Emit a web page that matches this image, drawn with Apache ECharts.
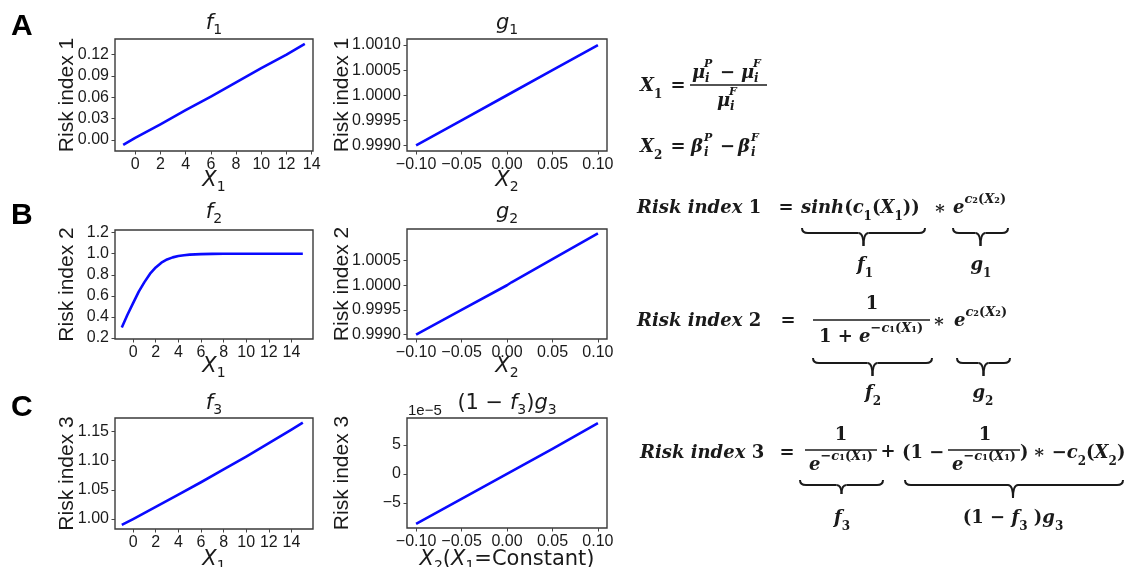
<!DOCTYPE html>
<html><head><meta charset="utf-8">
<script src="https://cdn.jsdelivr.net/npm/echarts@6/dist/echarts.min.js"></script>
<style>html,body{margin:0;padding:0;background:#fff}#c{width:1135px;height:567px}</style>
</head><body><div id="c"></div>
<script>
// ---------- data ----------
const f1X = [-0.95, 0, 2, 4, 6, 8, 10, 12, 13.45];
const f1Y = [-0.007, 0.003, 0.022, 0.042, 0.061, 0.081, 0.101, 0.120, 0.135];
const g1X = [-0.1, -0.05, 0, 0.05, 0.1];
const g1Y = [0.9990, 0.9995, 1.0000, 1.0005, 1.0010];
const f2X = [-1, -0.5, 0, 0.5, 1, 1.5, 2, 2.5, 3, 3.5, 4, 4.5, 5, 6, 7, 8, 10, 12, 15];
const f2Y = [0.30, 0.42, 0.53, 0.64, 0.73, 0.81, 0.87, 0.915, 0.945, 0.965, 0.978, 0.986, 0.991, 0.996, 0.998, 0.999, 1.0, 1.0, 1.0];
const g2X = [-0.1, -0.05, 0, 0.005, 0.05, 0.1];
const g2Y = [0.9990, 0.9995, 1.0000, 1.00006, 1.00053, 1.00105];
const f3X = [-1, 0, 2, 4, 6, 8, 10, 12, 14, 15];
const f3Y = [0.990, 1.000, 1.021, 1.042, 1.063, 1.085, 1.107, 1.130, 1.153, 1.165];
const g3X = [-0.1, -0.05, 0, 0.05, 0.1];
const g3Y = [-8.6e-5, -4.3e-5, 0, 4.3e-5, 8.7e-5];

// tick labels
const xTicksF = [0, 2, 4, 6, 8, 10, 12, 14];
const xTicksG = [-0.10, -0.05, 0.00, 0.05, 0.10];
const f1YTicks = [0.00, 0.03, 0.06, 0.09, 0.12];
const g1YTicks = [0.9990, 0.9995, 1.0000, 1.0005, 1.0010];
const f2YTicks = [0.2, 0.4, 0.6, 0.8, 1.0, 1.2];
const g2YTicks = [0.9990, 0.9995, 1.0000, 1.0005];
const f3YTicks = [1.00, 1.05, 1.10, 1.15];
const g3YTicks = [-5e-5, 0, 5e-5];

// titles / axis names (rich-text markup: i = italic, n = upright, b = subscript)
const titles = ['{i|f}{b|1}', '{i|g}{b|1}', '{i|f}{b|2}', '{i|g}{b|2}', '{i|f}{b|3}', '{n|(1 − }{i|f}{b|3}{n|)}{i|g}{b|3}'];
const xNames = ['{i|X}{b|1}', '{i|X}{b|2}', '{i|X}{b|1}', '{i|X}{b|2}', '{i|X}{b|1}', '{i|X}{b|2}{n|(}{i|X}{b|1}{n|=Constant)}'];
const yNames = ['Risk index 1', 'Risk index 1', 'Risk index 2', 'Risk index 2', 'Risk index 3', 'Risk index 3'];

// ---------- build ----------
const zip = (a, b) => a.map((v, i) => [v, b[i]]);
const minus = s => s.replace('-', '\u2212');
const fmt = d => v => minus(Number(v).toFixed(d));
const SANS = 'Liberation Sans, Arial, sans-serif';
const MATH = 'DejaVu Sans, sans-serif';
const INK = '#1a1a1a';

const G = [
  {left: 115, top: 39, width: 198, height: 112},
  {left: 407, top: 39, width: 200, height: 112},
  {left: 115, top: 230, width: 198, height: 109},
  {left: 407, top: 229, width: 200, height: 110},
  {left: 115, top: 418, width: 198, height: 111},
  {left: 407, top: 418, width: 200, height: 110}
];
const grids = G.map(g => Object.assign({show: true, borderColor: '#3a3a3a', borderWidth: 1.4, backgroundColor: 'transparent'}, g));

const xSpec = [
  {min: -1.6, max: 14.1, t: xTicksF, d: 0},
  {min: -0.11, max: 0.11, t: xTicksG, d: 2},
  {min: -1.6, max: 15.9, t: xTicksF, d: 0},
  {min: -0.11, max: 0.11, t: xTicksG, d: 2},
  {min: -1.6, max: 15.9, t: xTicksF, d: 0},
  {min: -0.11, max: 0.11, t: xTicksG, d: 2}
];
const ySpec = [
  {min: -0.0155, max: 0.142, t: f1YTicks, f: fmt(2)},
  {min: 0.99889, max: 1.00112, t: g1YTicks, f: fmt(4)},
  {min: 0.19, max: 1.225, t: f2YTicks, f: fmt(1)},
  {min: 0.99891, max: 1.00114, t: g2YTicks, f: fmt(4)},
  {min: 0.983, max: 1.173, t: f3YTicks, f: fmt(2)},
  {min: -9.3e-5, max: 9.6e-5, t: g3YTicks, f: v => minus(String(Math.round(v / 1e-5)))}
];

const tick = {show: true, inside: false, length: 3.5, lineStyle: {color: '#444', width: 1}};
const lab = {fontFamily: SANS, fontSize: 16, color: INK};

const xAxis = xSpec.map((s, i) => ({
  type: 'value', gridIndex: i, min: s.min, max: s.max,
  axisLine: {show: false, onZero: false}, splitLine: {show: false},
  axisTick: Object.assign({customValues: s.t}, tick),
  axisLabel: Object.assign({customValues: s.t, formatter: fmt(s.d), margin: 6}, lab)
}));
const yAxis = ySpec.map((s, i) => ({
  type: 'value', gridIndex: i, min: s.min, max: s.max,
  axisLine: {show: false, onZero: false}, splitLine: {show: false},
  axisTick: Object.assign({customValues: s.t}, tick),
  axisLabel: Object.assign({customValues: s.t, formatter: s.f, margin: 6}, lab)
}));

const seriesData = [zip(f1X, f1Y), zip(g1X, g1Y), zip(f2X, f2Y), zip(g2X, g2Y), zip(f3X, f3Y), zip(g3X, g3Y)];
const series = seriesData.map((d, i) => ({
  type: 'line', xAxisIndex: i, yAxisIndex: i, data: d, showSymbol: false, smooth: false,
  lineStyle: {color: '#0a0aff', width: 2.6, join: 'round'}, z: 3
}));

// ---------- graphic text helpers ----------
const SERIF = 'DejaVu Serif, serif';
const FR = {
  I: {fontFamily: SERIF, fontWeight: 'bold', fontStyle: 'italic', fontSize: 18, lineHeight: 30, fill: INK},
  N: {fontFamily: SERIF, fontWeight: 'bold', fontSize: 18, lineHeight: 30, fill: INK},
  s: {fontFamily: SERIF, fontWeight: 'bold', fontSize: 12, lineHeight: 18, verticalAlign: 'bottom', fill: INK},
  p: {fontFamily: SERIF, fontWeight: 'bold', fontStyle: 'italic', fontSize: 13, lineHeight: 12, verticalAlign: 'top', fill: INK},
  pn: {fontFamily: SERIF, fontWeight: 'bold', fontSize: 13, lineHeight: 12, verticalAlign: 'top', fill: INK}
};
const T = (x, y, text, align) => ({
  type: 'text', x: x, y: y, z: 10,
  style: {text: text, rich: FR, align: align || 'left', verticalAlign: 'middle', fill: INK,
          fontFamily: SERIF, fontWeight: 'bold', fontSize: 18}
});
const S = (x, y, text, size, extra) => ({
  type: 'text', x: x, y: y, z: 10,
  style: Object.assign({text: text, align: 'left', verticalAlign: 'middle', fill: INK,
          fontFamily: SERIF, fontWeight: 'bold', fontStyle: 'italic', fontSize: size}, extra || {})
});
const bar = (x1, x2, y) => ({type: 'line', z: 10, shape: {x1: x1, y1: y, x2: x2, y2: y}, style: {stroke: INK, lineWidth: 1.6}});
const BS = {stroke: INK, lineWidth: 2, fill: null};
const brace = (x1, x2, y0, tip, xm) => {
  xm = xm === undefined ? (x1 + x2) / 2 : xm;
  const y1 = y0 + 5;
  return [
    {type: 'bezierCurve', z: 10, shape: {x1: x1, y1: y0, x2: x1 + 6, y2: y1, cpx1: x1, cpy1: y1}, style: BS},
    {type: 'line', z: 10, shape: {x1: x1 + 6, y1: y1, x2: xm - 5, y2: y1}, style: BS},
    {type: 'bezierCurve', z: 10, shape: {x1: xm - 5, y1: y1, x2: xm, y2: tip, cpx1: xm, cpy1: y1}, style: BS},
    {type: 'bezierCurve', z: 10, shape: {x1: x2, y1: y0, x2: x2 - 6, y2: y1, cpx1: x2, cpy1: y1}, style: BS},
    {type: 'line', z: 10, shape: {x1: x2 - 6, y1: y1, x2: xm + 5, y2: y1}, style: BS},
    {type: 'bezierCurve', z: 10, shape: {x1: xm + 5, y1: y1, x2: xm, y2: tip, cpx1: xm, cpy1: y1}, style: BS}
  ];
};
const E_C2 = '{I|e}{p|c}{pn|₂(}{p|X}{pn|₂)}';
const E_MC1 = '{I|e}{p|−c}{pn|₁(}{p|X}{pn|₁)}';

// sans math labels (titles, axis names)
const MR = {
  i: {fontFamily: MATH, fontStyle: 'italic', fontSize: 21, lineHeight: 26, fill: INK},
  n: {fontFamily: MATH, fontSize: 21, lineHeight: 26, fill: INK},
  b: {fontFamily: MATH, fontSize: 14, lineHeight: 17, verticalAlign: 'bottom', fill: INK}
};
const M = (cx, cy, rich, rot) => ({
  type: 'text', x: cx, y: cy, z: 10, rotation: rot || 0,
  style: {text: rich, rich: MR, align: 'center', verticalAlign: 'middle', fill: INK}
});
const Y = (cx, cy, text) => ({
  type: 'text', x: cx, y: cy, z: 10, rotation: Math.PI / 2,
  style: {text: text, fontFamily: SANS, fontSize: 21, align: 'center', verticalAlign: 'middle', fill: INK}
});

const titleY = [24, 24, 213, 213, 404, 404];
const xNameY = [181, 181, 367, 367, 560, 560];
const yNameX = [67, 342, 67, 342, 67, 342];
const axisText = [];
G.forEach((g, i) => {
  const cx = g.left + g.width / 2, cy = g.top + g.height / 2;
  axisText.push(M(cx, titleY[i], titles[i]));
  axisText.push(M(cx, xNameY[i], xNames[i]));
  axisText.push(Y(yNameX[i], cy, yNames[i]));
});

const graphic = [
  // panel letters
  {type: 'text', x: 11, y: 27, style: {text: 'A', fontFamily: SANS, fontWeight: 'bold', fontSize: 30, fill: '#000', verticalAlign: 'middle'}},
  {type: 'text', x: 11, y: 216, style: {text: 'B', fontFamily: SANS, fontWeight: 'bold', fontSize: 30, fill: '#000', verticalAlign: 'middle'}},
  {type: 'text', x: 11, y: 408, style: {text: 'C', fontFamily: SANS, fontWeight: 'bold', fontSize: 30, fill: '#000', verticalAlign: 'middle'}},
  ...axisText,
  {type: 'text', x: 408, y: 411, style: {text: '1e\u22125', fontFamily: SANS, fontSize: 15, fill: INK, verticalAlign: 'middle'}},

  // X1 definition
  T(640, 86, '{I|X}{s|1}'),
  T(678, 86, '{N|=}', 'center'),
  S(692, 73, 'μ', 18), S(705, 79, 'i', 12), S(704, 64, 'P', 11),
  S(720, 73, '−', 18, {fontStyle: 'normal'}),
  S(741, 73, 'μ', 18), S(754, 79, 'i', 12), S(753, 64, 'F', 11),
  bar(690, 767, 85),
  S(717, 101, 'μ', 18), S(730, 107, 'i', 12), S(729, 92, 'F', 11),
  // X2 definition
  T(640, 147, '{I|X}{s|2}'),
  T(678, 147, '{N|=}', 'center'),
  S(691, 147, 'β', 18), S(704, 153, 'i', 12), S(704, 138, 'P', 11),
  S(720, 147, '−', 18, {fontStyle: 'normal'}),
  S(738, 147, 'β', 18), S(751, 153, 'i', 12), S(751, 138, 'F', 11),

  // Risk index 1
  T(637, 208, '{I|Risk index }{N|1}'),
  T(786, 208, '{N|=}', 'center'),
  T(801, 208, '{I|sinh}{N|(}{I|c}{s|1}{N|(}{I|X}{s|1}{N|))}'),
  T(940, 209, '{N|∗}', 'center'),
  T(953, 208, E_C2),
  ...brace(802, 925, 228, 246),
  T(865, 265, '{I|f}{s|1}', 'center'),
  ...brace(953, 1008, 228, 246),
  T(981, 265, '{I|g}{s|1}', 'center'),

  // Risk index 2
  T(637, 321, '{I|Risk index }{N|2}'),
  T(788, 321, '{N|=}', 'center'),
  T(872, 304, '{N|1}', 'center'),
  bar(813, 930, 320),
  T(871, 337, '{N|1 + }' + E_MC1, 'center'),
  T(939, 322, '{N|∗}', 'center'),
  T(954, 321, E_C2),
  ...brace(813, 932, 358, 376),
  T(873, 393, '{I|f}{s|2}', 'center'),
  ...brace(957, 1010, 358, 376),
  T(983, 393, '{I|g}{s|2}', 'center'),

  // Risk index 3
  T(640, 453, '{I|Risk index }{N|3}'),
  T(787, 453, '{N|=}', 'center'),
  T(841, 435, '{N|1}', 'center'),
  bar(805, 877, 450),
  T(841, 465, E_MC1, 'center'),
  T(888, 452, '{N|+}', 'center'),
  T(902, 453, '{N|(1 −}'),
  T(985, 435, '{N|1}', 'center'),
  bar(948, 1020, 450),
  T(984, 465, E_MC1, 'center'),
  T(1020, 453, '{N|)}'),
  T(1033, 453, '{N|∗ −}{I|c}{s|2}{N|(}{I|X}{s|2}{N|)}'),
  ...brace(800, 883, 480, 494),
  T(842, 518, '{I|f}{s|3}', 'center'),
  ...brace(905, 1123, 480, 498, 1013),
  T(1013, 518, '{N|(1 − }{I|f}{s|3}{N| )}{I|g}{s|3}', 'center')
];

const chart = echarts.init(document.getElementById('c'), null, {renderer: 'canvas'});
chart.setOption({
  animation: false,
  backgroundColor: '#fff',
  grid: grids, xAxis: xAxis, yAxis: yAxis, series: series, graphic: graphic
});
</script>
</body></html>
